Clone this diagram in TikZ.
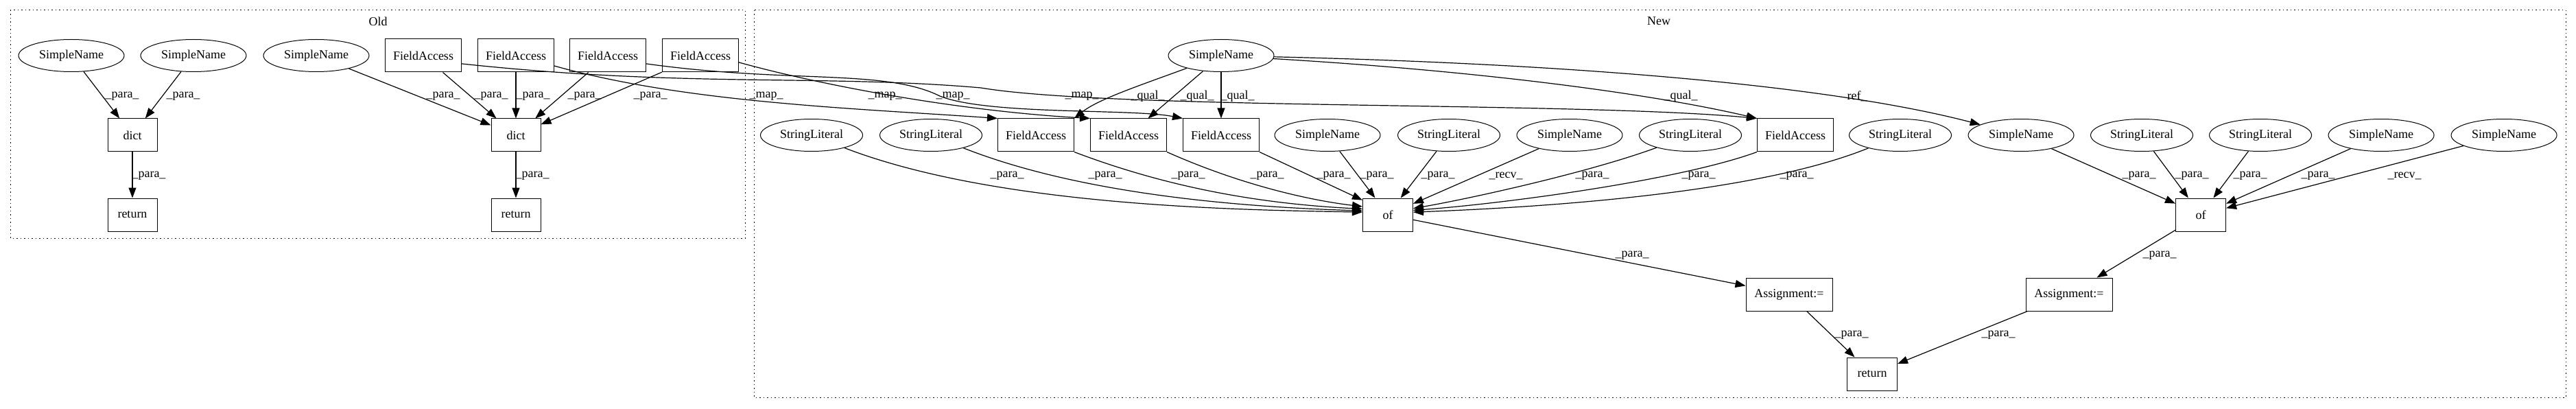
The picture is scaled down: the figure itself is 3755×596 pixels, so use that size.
\documentclass[tikz,border=0pt]{standalone}
\usepackage{fontspec}
\setmainfont{Liberation Serif}
\usetikzlibrary{arrows.meta,shapes.geometric}
\begin{document}
\begin{tikzpicture}[x=1pt,y=-1pt,
  every node/.style={font=\fontsize{18}{20}\selectfont},
  ell/.style={draw,ellipse,line width=1pt,minimum width=154pt,minimum height=47pt,inner sep=0pt},
  sl/.style={ell,minimum width=149pt},
  box/.style={draw,rectangle,line width=1pt,minimum height=48pt,inner sep=0pt},
  fa/.style={box,minimum width=111pt},
  sm/.style={box,minimum width=73pt},
  asg/.style={box,minimum width=126pt},
  lbl/.style={inner sep=0pt},
  edge/.style={line width=1.2pt,-{Triangle[length=15pt,width=11pt]}},
  cluster/.style={line width=1pt,dash pattern=on 1.5pt off 4pt},
]
\useasboundingbox[fill=white] (0,0) rectangle (3755,596);

% clusters
\draw[cluster] (15,15) rectangle (1086,347);
\node[lbl] (oldt) at (551,31) {Old};
\draw[cluster] (1099,15) rectangle (3740,579);
\node[lbl] (newt) at (2418,31) {New};

% Old nodes
\node[ell] (osn1) at (104,81) {SimpleName};
\node[ell] (osn2) at (282,81) {SimpleName};
\node[sm,minimum width=72pt] (odict1) at (193,197) {dict};
\node[sm,minimum width=72pt] (oret1) at (193,313) {return};
\node[ell] (osn3) at (461,81) {SimpleName};
\node[fa] (ofa1) at (617,81) {FieldAccess};
\node[fa] (ofa2) at (752,81) {FieldAccess};
\node[fa] (ofa3) at (886,81) {FieldAccess};
\node[fa] (ofa4) at (1021,81) {FieldAccess};
\node[sm,minimum width=72pt] (odict2) at (752,197) {dict};
\node[sm,minimum width=72pt] (oret2) at (752,313) {return};

% New nodes
\node[ell] (nsn) at (1780,81) {SimpleName};
\node[sl] (nsl1) at (1183,197) {StringLiteral};
\node[sl] (nsl2) at (1357,197) {StringLiteral};
\node[fa] (nfaa) at (1510,197) {FieldAccess};
\node[fa] (nfab) at (1645,197) {FieldAccess};
\node[fa] (nfac) at (1780,197) {FieldAccess};
\node[ell] (nsn2) at (1935,197) {SimpleName};
\node[sl] (nsl3) at (2112,197) {StringLiteral};
\node[ell] (nsn3) at (2288,197) {SimpleName};
\node[sl] (nsl4) at (2464,197) {StringLiteral};
\node[fa] (nfad) at (2617,197) {FieldAccess};
\node[sl] (nsl5) at (2770,197) {StringLiteral};
\node[ell] (nsn4) at (2946,197) {SimpleName};
\node[sl] (nsl6) at (3122,197) {StringLiteral};
\node[sl] (nsl7) at (3295,197) {StringLiteral};
\node[ell] (nsn5) at (3471,197) {SimpleName};
\node[ell] (nsn6) at (3650,197) {SimpleName};
\node[sm] (nof1) at (2023,313) {of};
\node[sm] (nof2) at (3208,313) {of};
\node[asg] (nas1) at (2608,429) {Assignment:=};
\node[asg] (nas2) at (3016,429) {Assignment:=};
\node[sm] (nret) at (2729,545) {return};

% Old edges
\draw[edge] (osn1) -- (odict1);
\draw[edge] (osn2) -- (odict1);
\draw[edge] (odict1) -- (oret1);
\draw[edge] (osn3) -- (odict2);
\draw[edge] (ofa1) -- (odict2);
\draw[edge] (ofa2) -- (odict2);
\draw[edge] (ofa3) -- (odict2);
\draw[edge] (ofa4) -- (odict2);
\draw[edge] (odict2) -- (oret2);
\node[lbl] (l1) at (178,140) {\_para\_};
\node[lbl] (l2) at (267,140) {\_para\_};
\node[lbl] (l3) at (646,140) {\_para\_};
\node[lbl] (l4) at (716,140) {\_para\_};
\node[lbl] (l5) at (777,140) {\_para\_};
\node[lbl] (l6) at (852,140) {\_para\_};
\node[lbl] (l7) at (948,140) {\_para\_};
\node[lbl] (l8) at (217,256) {\_para\_};
\node[lbl] (l9) at (776,256) {\_para\_};

% map edges
\draw[edge] (ofa2.-15) .. controls (1000,150) and (1250,158) .. (nfaa.north west);
\draw[edge] (ofa4.-10) .. controls (1200,125) and (1400,162) .. (nfab.north west);
\draw[edge] (ofa3.-12) .. controls (1150,122) and (1290,100) .. (1370,140) .. controls (1440,168) and (1650,158) .. (nfac.north west);
\draw[edge] (ofa1.-12) .. controls (1000,128) and (1200,108) .. (1430,128) .. controls (1620,160) and (2300,148) .. (nfad.north west);
\node[lbl] (m1) at (1117,140) {\_map\_};
\node[lbl] (m2) at (1290,140) {\_map\_};
\node[lbl] (m3) at (1389,140) {\_map\_};
\node[lbl] (m4) at (1577,140) {\_map\_};

% qual / ref edges
\draw[edge] (nsn) .. controls (1660,125) and (1600,145) .. (nfaa.north east);
\draw[edge] (nsn) -- (nfab);
\draw[edge] (nsn) -- (nfac);
\draw[edge] (nsn) .. controls (2150,103) and (2400,135) .. (nfad.north west);
\draw[edge] (nsn) .. controls (2250,92) and (2650,120) .. (nsn4);
\node[lbl] (q1) at (1673,140) {\_qual\_};
\node[lbl] (q2) at (1745,140) {\_qual\_};
\node[lbl] (q3) at (1804,140) {\_qual\_};
\node[lbl] (q4) at (2450,140) {\_qual\_};
\node[lbl] (r1) at (2707,140) {ref\_};

% into of1
\draw[edge] (nsl1) .. controls (1450,300) and (1800,306) .. (nof1.174);
\draw[edge] (nsl2) .. controls (1580,285) and (1820,302) .. (nof1.171);
\draw[edge] (nfaa.south east) .. controls (1720,280) and (1860,298) .. (nof1.167);
\draw[edge] (nfab.south east) .. controls (1810,270) and (1910,292) .. (nof1.162);
\draw[edge] (nfac.south east) -- (nof1.150);
\draw[edge] (nsn2) -- (nof1);
\draw[edge] (nsl3) -- (nof1);
\draw[edge] (nsn3) -- (nof1);
\draw[edge] (nsl4) .. controls (2320,250) and (2150,288) .. (nof1.14);
\draw[edge] (nfad.south west) .. controls (2450,262) and (2200,296) .. (nof1.10);
\draw[edge] (nsl5) .. controls (2560,282) and (2250,302) .. (nof1.6);
\node[lbl] (p1) at (1468,256) {\_para\_};
\node[lbl] (p2) at (1611,256) {\_para\_};
\node[lbl] (p3) at (1732,256) {\_para\_};
\node[lbl] (p4) at (1847,256) {\_para\_};
\node[lbl] (p5) at (1944,256) {\_para\_};
\node[lbl] (p6) at (2007,256) {\_para\_};
\node[lbl] (p7) at (2096,256) {\_para\_};
\node[lbl] (p8) at (2195,256) {\_recv\_};
\node[lbl] (p9) at (2321,256) {\_para\_};
\node[lbl] (p10) at (2476,256) {\_para\_};
\node[lbl] (p11) at (2619,256) {\_para\_};

% into of2
\draw[edge] (nsn4) -- (nof2);
\draw[edge] (nsl6) -- (nof2);
\draw[edge] (nsl7) -- (nof2);
\draw[edge] (nsn5) -- (nof2);
\draw[edge] (nsn6) -- (nof2);
\node[lbl] (s1) at (3118,256) {\_para\_};
\node[lbl] (s2) at (3195,256) {\_para\_};
\node[lbl] (s3) at (3280,256) {\_para\_};
\node[lbl] (s4) at (3379,256) {\_para\_};
\node[lbl] (s5) at (3505,256) {\_recv\_};

% lower
\draw[edge] (nof1) -- (nas1);
\draw[edge] (nof2) -- (nas2);
\draw[edge] (nas1) -- (nret);
\draw[edge] (nas2) -- (nret);
\node[lbl] (a1) at (2379,372) {\_para\_};
\node[lbl] (a2) at (3148,372) {\_para\_};
\node[lbl] (a3) at (2699,488) {\_para\_};
\node[lbl] (a4) at (2913,488) {\_para\_};
\end{tikzpicture}
\end{document}
